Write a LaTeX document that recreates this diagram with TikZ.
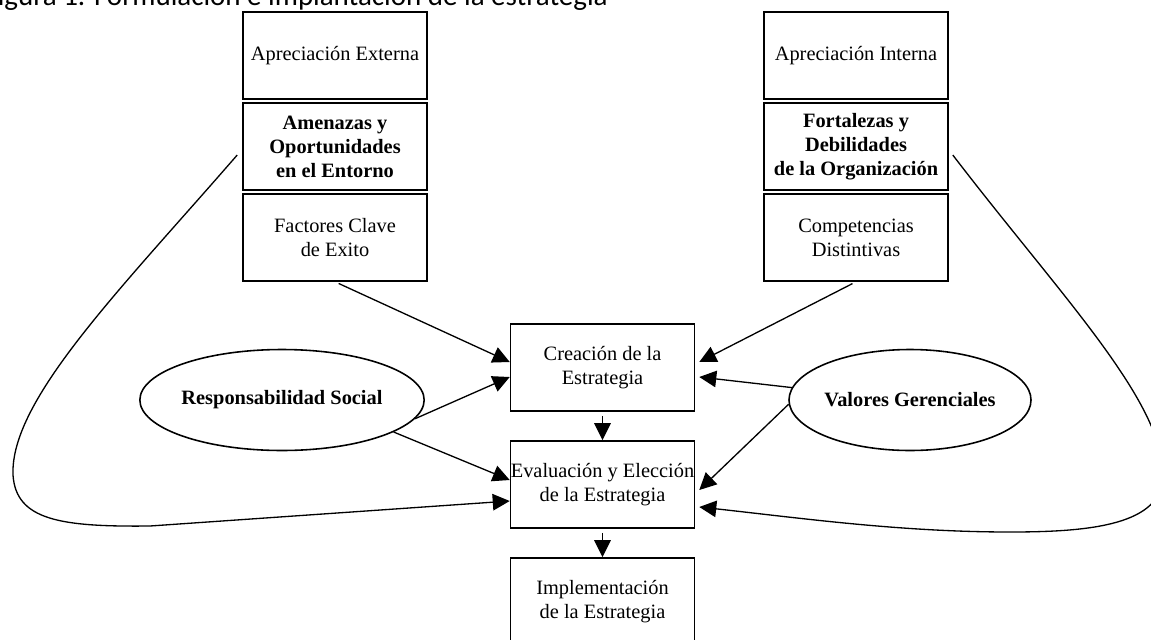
\documentclass[tikz,border=0pt]{standalone}
\usepackage{fontspec}
\setmainfont{Liberation Serif}
\newfontfamily\captionfont{Carlito}
\usetikzlibrary{arrows.meta,shapes.geometric}

\begin{document}
\begin{tikzpicture}[x=0.02cm, y=-0.02cm,
  caja/.style={draw, line width=0.9pt, minimum width=3.68cm, minimum height=1.74cm,
    inner sep=0pt, align=center, font=\fontsize{11.6}{13.6}\selectfont},
  caja negrita/.style={caja, font=\fontsize{11.6}{13.6}\selectfont\bfseries},
  elipse/.style={draw, ellipse, line width=0.9pt, minimum width=4.2cm, minimum height=2.02cm,
    inner sep=0pt, font=\fontsize{11.6}{13.6}\selectfont\bfseries},
  flecha/.style={line width=0.75pt, -{Triangle[length=0.34cm, width=0.33cm]}}]

% Page frame (the title and the last box run over it)
\useasboundingbox (0,0) rectangle (1151,639);
\clip (0,0) rectangle (1151,639);

% Title
\node[font=\captionfont\fontsize{16.5}{20}\selectfont, anchor=base east, inner sep=0pt] (titulo) at (608,6) {Figura 1. Formulación e implantación de la estrategia};

% External appraisal column
\node[caja] (apext) at (335,55.5) {Apreciación Externa};
\node[caja negrita] (amenazas) at (335,146.5) {Amenazas y\\ Oportunidades\\ en el Entorno};
\node[caja] (factores) at (335,237.5) {Factores Clave\\ de Exito};

% Internal appraisal column
\node[caja] (apint) at (856,55.5) {Apreciación Interna};
\node[caja negrita] (fortalezas) at (856,146.5) {Fortalezas y\\ Debilidades\\ de la Organización};
\node[caja] (competencias) at (856,237.5) {Competencias\\ Distintivas};

% Strategy steps
\node[caja] (creacion) at (602.5,367.5) {Creación de la\\ Estrategia};
\node[caja] (evaluacion) at (602.5,484.5) {Evaluación y Elección\\ de la Estrategia};
\node[caja] (implementacion) at (602.5,601.5) {Implementación\\ de la Estrategia};

% Ellipses
\node[elipse] (resp) at (282,400) {Responsabilidad Social};
\node[elipse] (valores) at (910,400) {Valores Gerenciales};

% Arrows from the left
\draw[flecha, shorten <=0.08cm] (factores.south) -- ([yshift=0.11cm]creacion.west);
\draw[flecha] (resp.-8) -- ([yshift=-0.19cm]creacion.west);
\draw[flecha] (resp.-16) -- ([yshift=0.09cm]evaluacion.west);
\draw[flecha] ([xshift=-0.1cm,yshift=-0.17cm]amenazas.west) .. controls (120,290) and (10,400) .. (13,475)
  .. controls (16,520) and (60,527) .. (150,526) -- ([yshift=-0.33cm]evaluacion.west);

% Arrows from the right
\draw[flecha, shorten <=0.08cm] (competencias.south) -- ([xshift=0.08cm,yshift=0.11cm]creacion.east);
\draw[flecha] (valores.174) -- ([xshift=0.08cm,yshift=-0.19cm]creacion.east);
\draw[flecha] (valores.182) -- ([xshift=0.08cm,yshift=-0.11cm]evaluacion.east);
\draw[flecha] ([xshift=0.08cm,yshift=-0.17cm]fortalezas.east) .. controls (1060,295) and (1163,400) .. (1163,475)
  .. controls (1163,525) and (1090,532) .. (1010,532)
  .. controls (900,532) and (800,518) .. ([xshift=0.08cm,yshift=-0.45cm]evaluacion.east);

% Down the middle
\draw[flecha, shorten <=0.08cm] (creacion) -- (evaluacion);
\draw[flecha, shorten <=0.08cm] (evaluacion) -- (implementacion);
\end{tikzpicture}
\end{document}
